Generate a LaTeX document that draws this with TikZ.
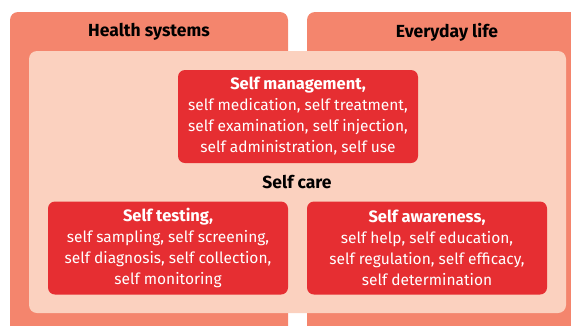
\documentclass[tikz,border=0pt]{standalone}
\usepackage{fontspec}
\setmainfont{Fira Sans}
\definecolor{outerbg}{HTML}{F4856D}
\definecolor{innerbg}{HTML}{FBD1BF}
\definecolor{redbg}{HTML}{E62E32}
\newcommand{\boxhead}[1]{{\fontsize{16.5}{21}\selectfont\bfseries #1}}
\begin{document}
\begin{tikzpicture}[x=1pt,y=-1pt,
  redbox/.style={fill=redbg, rounded corners=7pt, minimum width=240, minimum height=93, align=center, text=white, font=\fontsize{15.5}{21}\selectfont, inner sep=0pt},
  title/.style={font=\fontsize{17.5}{20}\selectfont\bfseries}]
\useasboundingbox (0,0) rectangle (571,325);
\clip (0,0) rectangle (571,325);
\fill[outerbg, rounded corners=8pt] (10,12) rectangle (288,345);
\fill[outerbg, rounded corners=8pt] (307,12) rectangle (590,345);
\fill[innerbg, rounded corners=8pt] (29,51) rectangle (566,313);
\node[title] (health) at (149,32) {Health systems};
\node[title] (everyday) at (447,32) {Everyday life};
\node[redbox] (manage) at (298,116.5) {\boxhead{Self management,}\\self medication, self treatment,\\self examination, self injection,\\self administration, self use};
\node[title] (care) at (297,182) {Self care};
\node[redbox] (testing) at (168,248) {\boxhead{Self testing,}\\self sampling, self screening,\\self diagnosis, self collection,\\self monitoring};
\node[redbox] (aware) at (427,248) {\boxhead{Self awareness,}\\self help, self education,\\self regulation, self efficacy,\\self determination};
\end{tikzpicture}
\end{document}
